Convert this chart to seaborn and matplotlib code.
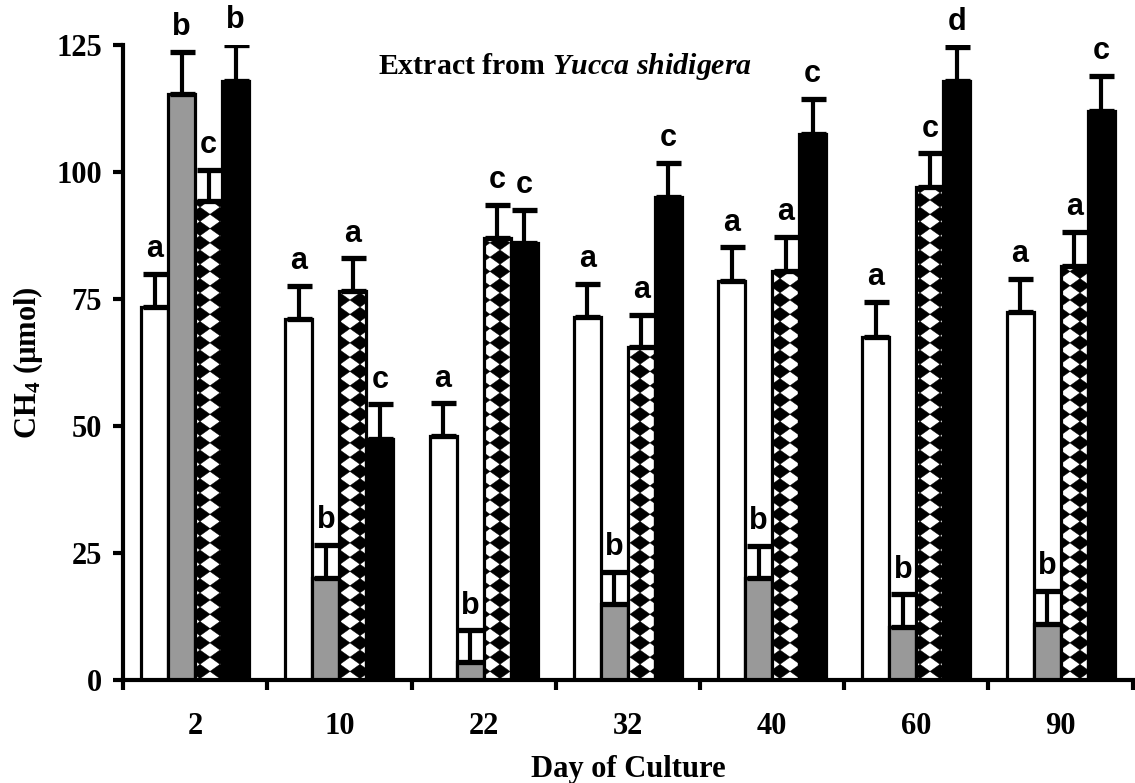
import matplotlib
matplotlib.use('Agg')
import matplotlib.pyplot as plt
from matplotlib.container import BarContainer
from matplotlib import hatch as mhatch
from matplotlib.path import Path
import seaborn as sns
import pandas as pd
import numpy as np

days = ['2', '10', '22', '32', '40', '60', '90']
treatments = ['Control', 'T1', 'T2', 'T3']

control = [73.5, 71.0, 48.0, 71.5, 78.5, 67.5, 72.5]
t1 = [115.3, 20.0, 3.5, 15.0, 20.0, 10.5, 11.0]
t2 = [94.3, 76.5, 87.0, 65.5, 80.5, 97.0, 81.5]
t3 = [118.0, 47.5, 86.0, 95.0, 107.5, 118.0, 112.0]

err_control = [6.4, 6.6, 6.5, 6.5, 6.7, 6.9, 6.5]
err_t1 = [8.4, 6.6, 6.3, 6.3, 6.4, 6.4, 6.5]
err_t2 = [6.1, 6.5, 6.5, 6.4, 6.7, 6.7, 6.7]
err_t3 = [7.0, 6.8, 6.5, 6.8, 6.9, 6.6, 7.0]

let_control = ['a', 'a', 'a', 'a', 'a', 'a', 'a']
let_t1 = ['b', 'b', 'b', 'b', 'b', 'b', 'b']
let_t2 = ['c', 'a', 'c', 'a', 'a', 'c', 'a']
let_t3 = ['b', 'c', 'c', 'c', 'c', 'd', 'c']

values = [control, t1, t2, t3]
errors = [err_control, err_t1, err_t2, err_t3]
letters = [let_control, let_t1, let_t2, let_t3]


# Checkerboard-of-diamonds hatch (replaces the '*' star hatch)
class Diamonds(mhatch.HatchPatternBase):
    def __init__(self, hatch, density):
        k = hatch.count('*')
        self.nx = 5 * k
        self.ny = 7 * k
        self.num_vertices = (self.nx + 1) * (self.ny + 1) * 5 if k else 0

    def set_vertices_and_codes(self, vertices, codes):
        hx = 0.5 / self.nx
        hy = 0.5 / self.ny
        idx = 0
        for i in range(self.nx + 1):
            for j in range(self.ny + 1):
                cx = i / self.nx
                cy = j / self.ny
                vertices[idx:idx + 5] = [(cx - hx, cy), (cx, cy + hy), (cx + hx, cy),
                                         (cx, cy - hy), (cx - hx, cy)]
                codes[idx:idx + 5] = [Path.MOVETO, Path.LINETO, Path.LINETO,
                                      Path.LINETO, Path.CLOSEPOLY]
                idx += 5


mhatch._hatch_types = [t for t in mhatch._hatch_types if t is not mhatch.Stars] + [Diamonds]

rows = []
for tr, vals in zip(treatments, values):
    for d, v in zip(days, vals):
        rows.append({'day': d, 'treatment': tr, 'value': v})
df = pd.DataFrame(rows)

sns.set_style('white')
plt.rcParams['font.family'] = ['Liberation Serif', 'DejaVu Serif']
plt.rcParams['font.weight'] = 'bold'
plt.rcParams['text.color'] = 'black'
plt.rcParams['axes.labelcolor'] = 'black'
plt.rcParams['xtick.color'] = 'black'
plt.rcParams['ytick.color'] = 'black'
plt.rcParams['mathtext.fontset'] = 'custom'
plt.rcParams['mathtext.rm'] = 'Liberation Serif:bold'
plt.rcParams['mathtext.bf'] = 'Liberation Serif:bold'
plt.rcParams['mathtext.it'] = 'Liberation Serif:bold:italic'
plt.rcParams['mathtext.default'] = 'rm'
plt.rcParams['hatch.linewidth'] = 0.3
plt.rcParams['hatch.color'] = 'black'

fig = plt.figure(figsize=(11.35, 7.83), dpi=100)
ax = fig.add_axes([0.1084, 0.1315, 0.8896, 0.811])

palette = {'Control': 'white', 'T1': '#999999', 'T2': 'white', 'T3': 'black'}
sns.barplot(data=df, x='day', y='value', hue='treatment', order=days,
            hue_order=treatments, palette=palette, edgecolor='black',
            linewidth=2.3, width=0.75, legend=False, errorbar=None, ax=ax,
            saturation=1)

bar_containers = [c for c in ax.containers if isinstance(c, BarContainer)]
for i, cont in enumerate(bar_containers):
    xs = []
    for p in cont.patches:
        xs.append(p.get_x() + p.get_width() / 2)
        p.set_zorder(2)
        if i == 2:
            p.set_hatch('*')
    xs = np.array(xs)
    vals = np.array(values[i])
    errs = np.array(errors[i])
    ax.errorbar(xs, vals, yerr=[np.zeros_like(errs), errs], fmt='none',
                ecolor='black', elinewidth=3.0, capsize=9, capthick=3.8,
                zorder=3)
    for x, v, e, lab in zip(xs, vals, errs, letters[i]):
        ax.annotate(lab, xy=(x, v + e), xytext=(0, 12), textcoords='offset points',
                    ha='center', va='baseline', fontsize=22, fontweight='bold',
                    family=['Liberation Sans', 'DejaVu Sans'])

ax.set_xlim(-0.5, len(days) - 0.5)
ax.set_ylim(0, 125)
ax.set_yticks([0, 25, 50, 75, 100, 125])
ax.set_xticks(range(len(days)))
ax.set_xticklabels(days)
ax.set_xticks(np.arange(-0.5, len(days), 1.0), minor=True)

for s in ['top', 'right']:
    ax.spines[s].set_visible(False)
for s in ['left', 'bottom']:
    ax.spines[s].set_linewidth(3.0)
    ax.spines[s].set_color('black')

ax.tick_params(axis='x', which='major', length=0, pad=23, labelsize=22)
ax.tick_params(axis='x', which='minor', length=7, width=3.0, direction='out',
               color='black', bottom=True)
ax.tick_params(axis='y', which='major', length=7, width=3.0, direction='out',
               color='black', pad=8, labelsize=22, left=True)

for lab in ax.get_xticklabels() + ax.get_yticklabels():
    lab.set_fontweight('bold')

ax.set_xlabel('Day of Culture', fontsize=22, fontweight='bold', labelpad=10)
ax.set_ylabel('CH$_4$ (µmol)', fontsize=22, fontweight='bold', labelpad=8)

ax.text(0.4376, 0.966, r'Extract from $\mathit{Yucca\ shidigera}$', transform=ax.transAxes,
        ha='center', va='center', fontsize=21.5, fontweight='bold')

fig.savefig('out.png', dpi=100)
